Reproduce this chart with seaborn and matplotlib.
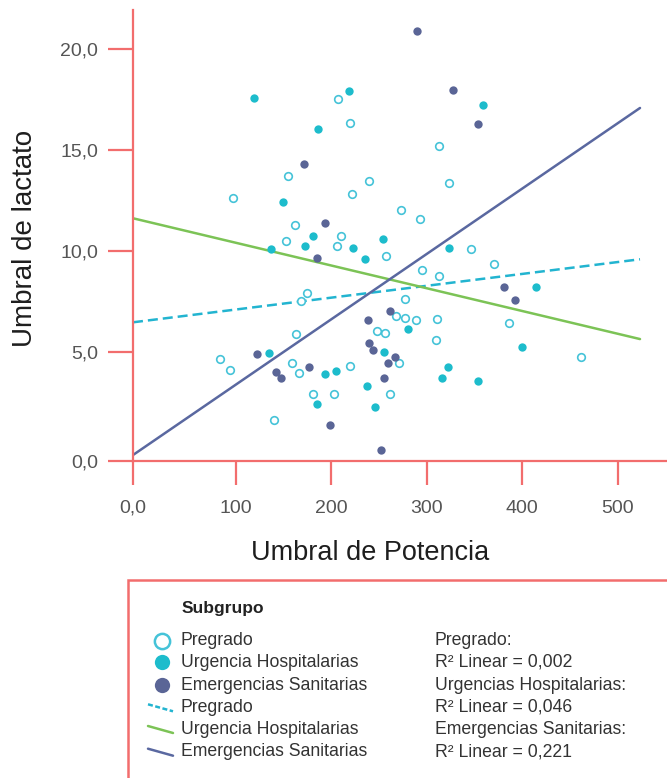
import numpy as np
import pandas as pd
import matplotlib
matplotlib.use("Agg")
import matplotlib.pyplot as plt
import seaborn as sns
from matplotlib.lines import Line2D
from matplotlib.patches import Rectangle

# ---------------- data ----------------
groups = ["Pregrado", "Urgencia Hospitalarias", "Emergencias Sanitarias"]

pregrado_x = [206.6, 219.2, 313.1, 154.2, 239.4, 323.6, 221.9, 96.9, 273.0, 293.2,
              161.5, 209.7, 152.1, 205.9, 256.9, 346.6, 370.8, 295.0, 313.1, 174.4,
              168.1, 277.1, 267.2, 276.8, 288.7, 310.9, 386.2, 248.1, 256.2, 163.2,
              309.6, 461.3, 83.2, 219.5, 158.4, 270.9, 94.2, 165.7, 180.2, 203.2,
              261.1, 139.8]
pregrado_y = [17.51, 16.34, 15.21, 13.73, 13.47, 13.38, 12.81, 12.61, 12.01, 11.57,
              11.29, 10.76, 10.51, 10.26, 9.74, 10.08, 9.36, 9.06, 8.76, 7.91,
              7.52, 7.64, 6.78, 6.67, 6.57, 6.63, 6.44, 6.02, 5.94, 5.88,
              5.57, 4.75, 4.67, 4.32, 4.45, 4.45, 4.09, 3.95, 2.92, 2.91,
              2.90, 1.64]

urgencia_x = [119.2, 218.1, 186.0, 359.2, 149.6, 180.2, 253.8, 136.9, 172.5, 223.0,
              235.4, 323.6, 414.5, 279.8, 255.1, 134.9, 400.1, 321.7, 204.3, 193.8,
              315.9, 353.9, 237.0, 184.9, 246.0]
urgencia_y = [17.59, 17.94, 16.04, 17.23, 12.41, 10.76, 10.59, 10.10, 10.23, 10.13,
              9.58, 10.16, 8.20, 6.14, 5.01, 4.94, 5.25, 4.25, 4.08, 3.91,
              3.72, 3.56, 3.33, 2.41, 2.28]

emergencias_x = [290.0, 327.8, 353.7, 171.3, 193.0, 185.2, 380.6, 392.5, 261.9, 238.4,
                 239.1, 243.9, 266.5, 259.3, 122.2, 176.2, 141.6, 146.9, 255.1, 198.5,
                 251.7]
emergencias_y = [20.89, 17.96, 16.27, 14.31, 11.37, 9.63, 8.24, 7.56, 7.05, 6.58,
                 5.45, 5.08, 4.75, 4.48, 4.91, 4.25, 4.00, 3.71, 3.72, 1.41,
                 0.16]

# fitted lines at the ends of the x range
fit_x = [-8.0, 523.5]
fit_pregrado = [6.47, 9.59]
fit_urgencia = [11.62, 5.64]
fit_emergencias = [-0.10, 17.08]

x_ticks = [-8.0, 100, 200, 300, 400, 500]
x_tick_labels = ["0,0", "100", "200", "300", "400", "500"]
y_ticks = [-0.38, 5, 10, 15, 20]
y_tick_labels = ["0,0", "5,0", "10,0", "15,0", "20,0"]

legend_title = "Subgrupo"
r2_text = ["Pregrado:", "R² Linear = 0,002",
           "Urgencias Hospitalarias:", "R² Linear = 0,046",
           "Emergencias Sanitarias:", "R² Linear = 0,221"]

# ---------------- style ----------------
RED = "#f26d6d"
C_PRE = "#45c3d8"
C_URG = "#1dbccc"
C_EME = "#5a6596"
L_PRE = "#22b4d0"
L_URG = "#7cc356"
L_EME = "#5a68a0"

sns.set_theme(style="white")
plt.rcParams["font.family"] = ["Liberation Sans", "DejaVu Sans"]

W, H = 667, 778
fig = plt.figure(figsize=(W / 100, H / 100), dpi=100)
ax = fig.add_axes([133 / W, 317 / H, 534 / W, 451 / H])

df = pd.DataFrame({
    "x": pregrado_x + urgencia_x + emergencias_x,
    "y": pregrado_y + urgencia_y + emergencias_y,
    "g": [groups[0]] * len(pregrado_x) + [groups[1]] * len(urgencia_x)
         + [groups[2]] * len(emergencias_x),
})

fits = pd.DataFrame({
    "x": fit_x * 3,
    "y": fit_pregrado + fit_urgencia + fit_emergencias,
    "g": [groups[0]] * 2 + [groups[1]] * 2 + [groups[2]] * 2,
})

sns.lineplot(data=fits[fits.g == groups[0]], x="x", y="y", color=L_PRE, lw=1.8,
             linestyle=(0, (4, 2)), ax=ax, zorder=2)
sns.lineplot(data=fits[fits.g == groups[1]], x="x", y="y", color=L_URG, lw=1.8,
             ax=ax, zorder=2)
sns.lineplot(data=fits[fits.g == groups[2]], x="x", y="y", color=L_EME, lw=1.8,
             ax=ax, zorder=2)

sns.scatterplot(data=df[df.g == groups[0]], x="x", y="y", s=30, facecolor="white",
                edgecolor=C_PRE, linewidth=1.2, ax=ax, zorder=3)
sns.scatterplot(data=df[df.g == groups[1]], x="x", y="y", s=36, color=C_URG,
                linewidth=0, ax=ax, zorder=3)
sns.scatterplot(data=df[df.g == groups[2]], x="x", y="y", s=36, color=C_EME,
                linewidth=0, ax=ax, zorder=3)

ax.set_xlim(-8.0, 551.8)
ax.set_ylim(-0.396, 21.93)
ax.set_xticks(x_ticks)
ax.set_xticklabels(x_tick_labels)
ax.set_yticks(y_ticks)
ax.set_yticklabels(y_tick_labels)

for s in ["top", "right"]:
    ax.spines[s].set_visible(False)
for s in ["left", "bottom"]:
    ax.spines[s].set_color(RED)
    ax.spines[s].set_linewidth(1.6)

ax.tick_params(axis="x", direction="out", length=17, width=1.6, color=RED,
               pad=11, labelsize=14, labelcolor="#555555", bottom=True)
ax.tick_params(axis="y", direction="out", length=18, width=1.6, color=RED,
               pad=7, labelsize=14, labelcolor="#555555", left=True)

ax.set_xlabel("Umbral de Potencia", fontsize=19.5, color="#1e1e1e", va="center")
ax.set_ylabel("Umbral de lactato", fontsize=20, color="#1e1e1e", va="center")
ax.xaxis.set_label_coords((370 - 133) / 534, (461 - 553) / 451)
ax.yaxis.set_label_coords((25 - 133) / 534, (461 - 238) / 451)

# ---------------- legend box ----------------
def fx(px):
    return px / W


def fy(py):
    return 1 - py / H


fig.patches.append(Rectangle((fx(128), fy(820)), 1.0, fy(580) - fy(820),
                             transform=fig.transFigure, fill=False,
                             edgecolor=RED, linewidth=1.8, clip_on=False))

fig.text(fx(182), fy(608), legend_title, fontsize=12.5, fontweight="bold",
         color="#222222", va="center", ha="left")

rows_y = [640.7, 662.3, 685.0, 707.3, 729.0, 751.7]
labels = groups + groups
for i, (yy, lab) in enumerate(zip(rows_y, labels)):
    fig.text(fx(181), fy(yy), lab, fontsize=12.7, color="#333333",
             va="center", ha="left")
    fig.text(fx(435), fy(yy), r2_text[i], fontsize=12.7, color="#333333",
             va="center", ha="left")

mk = [dict(mfc="white", mec=C_PRE, mew=1.8),
      dict(mfc=C_URG, mec=C_URG, mew=0),
      dict(mfc=C_EME, mec=C_EME, mew=0)]
for yy, m in zip(rows_y[:3], mk):
    fig.add_artist(Line2D([fx(161.7)], [fy(yy)], marker="o", markersize=11,
                          linestyle="none", transform=fig.transFigure, **m))

ln = [dict(color=L_PRE, linestyle=(0, (2, 1))),
      dict(color=L_URG, linestyle="-"),
      dict(color=L_EME, linestyle="-")]
for yy, l in zip(rows_y[3:], ln):
    fig.add_artist(Line2D([fx(148), fx(173)], [fy(yy - 3), fy(yy + 4)],
                          lw=1.8, transform=fig.transFigure, **l))

fig.savefig("out.png", dpi=100)
